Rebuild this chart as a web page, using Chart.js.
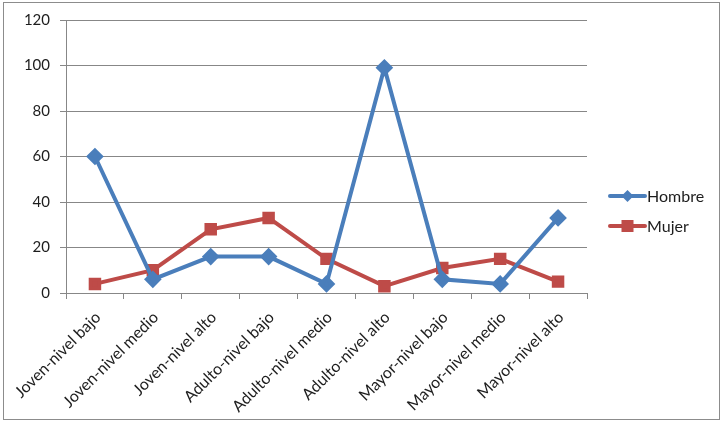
<!DOCTYPE html>
<html>
<head>
<meta charset="utf-8">
<script src="https://cdn.jsdelivr.net/npm/chart.js@4/dist/chart.umd.min.js"></script>
<style>
  html, body { margin: 0; padding: 0; background: #fff; }
  #wrap { position: relative; width: 723px; height: 423px; }
</style>
</head>
<body>
<div id="wrap"><canvas id="chart" width="723" height="423"></canvas></div>
<script>
const categories = [
  'Joven-nivel bajo', 'Joven-nivel medio', 'Joven-nivel alto',
  'Adulto-nivel bajo', 'Adulto-nivel medio', 'Adulto-nivel alto',
  'Mayor-nivel bajo', 'Mayor-nivel medio', 'Mayor-nivel alto'
];
const hombreValues = [60, 6, 16, 16, 4, 99, 6, 4, 33];
const mujerValues = [4, 10, 28, 33, 15, 3, 11, 15, 5];
const yTicks = [0, 20, 40, 60, 80, 100, 120];

const FONT = 'Lato, "Open Sans", "Liberation Sans", sans-serif';
const BLUE = '#4A7EBB';
const RED = '#BE4B48';
const GRID = '#878787';
const TEXT = '#1d1d1d';

// outer frame + legend drawn like the spreadsheet chart
const framePlugin = {
  id: 'frame',
  beforeDraw(chart) {
    const ctx = chart.ctx;
    ctx.save();
    ctx.fillStyle = '#fff';
    ctx.fillRect(0, 0, chart.width, chart.height);
    ctx.strokeStyle = '#8c8c8c';
    ctx.lineWidth = 1;
    ctx.strokeRect(3.5, 2.5, 716, 417);
    ctx.restore();
  },
  afterDraw(chart) {
    const ctx = chart.ctx;
    const area = chart.chartArea;
    const x0 = area.right + 23;
    const items = chart.data.datasets.map((ds, i) => ({ ds, y: 196 + i * 30 }));
    ctx.save();
    items.forEach(({ ds, y }) => {
      ctx.strokeStyle = ds.borderColor;
      ctx.lineWidth = 4;
      ctx.lineCap = 'round';
      ctx.beginPath();
      ctx.moveTo(x0, y);
      ctx.lineTo(x0 + 35, y);
      ctx.stroke();
      ctx.fillStyle = ds.pointBackgroundColor;
      const cx = x0 + 17.5;
      if (ds.pointStyle === 'rectRot') {
        ctx.beginPath();
        ctx.moveTo(cx, y - 6);
        ctx.lineTo(cx + 6, y);
        ctx.lineTo(cx, y + 6);
        ctx.lineTo(cx - 6, y);
        ctx.closePath();
        ctx.fill();
      } else {
        ctx.fillRect(cx - 6, y - 6, 12, 12);
      }
      ctx.fillStyle = TEXT;
      ctx.font = '16px ' + FONT;
      ctx.textBaseline = 'middle';
      ctx.textAlign = 'left';
      ctx.fillText(ds.label, x0 + 37, y + 1);
    });
    ctx.restore();
  }
};

new Chart(document.getElementById('chart'), {
  type: 'line',
  data: {
    labels: categories,
    datasets: [
      {
        label: 'Hombre',
        data: hombreValues,
        borderColor: BLUE,
        backgroundColor: BLUE,
        pointBackgroundColor: BLUE,
        pointBorderColor: BLUE,
        borderWidth: 4,
        pointStyle: 'rectRot',
        pointRadius: 6,
        tension: 0
      },
      {
        label: 'Mujer',
        data: mujerValues,
        borderColor: RED,
        backgroundColor: RED,
        pointBackgroundColor: RED,
        pointBorderColor: RED,
        borderWidth: 4,
        pointStyle: 'rect',
        pointRadius: 6,
        tension: 0
      }
    ]
  },
  options: {
    responsive: false,
    animation: false,
    layout: { padding: { left: 6, top: 20, right: 136, bottom: 10 } },
    plugins: {
      legend: { display: false },
      tooltip: { enabled: false }
    },
    scales: {
      x: {
        offset: true,
        grid: {
          offset: true,
          drawOnChartArea: false,
          color: GRID,
          tickLength: 6
        },
        border: { color: GRID, width: 1 },
        ticks: {
          autoSkip: false,
          maxRotation: 45,
          minRotation: 45,
          padding: 9,
          labelOffset: 3,
          color: TEXT,
          font: { family: FONT, size: 16 }
        },
        afterFit(scale) { scale.height = 120; }
      },
      y: {
        min: 0,
        max: 120,
        afterBuildTicks(scale) { scale.ticks = yTicks.map(v => ({ value: v })); },
        grid: { color: GRID, tickLength: 6 },
        border: { color: GRID, width: 1 },
        ticks: {
          padding: 10,
          color: TEXT,
          font: { family: FONT, size: 15 }
        },
        afterFit(scale) { scale.width = 60; }
      }
    }
  },
  plugins: [framePlugin]
});
</script>
</body>
</html>
